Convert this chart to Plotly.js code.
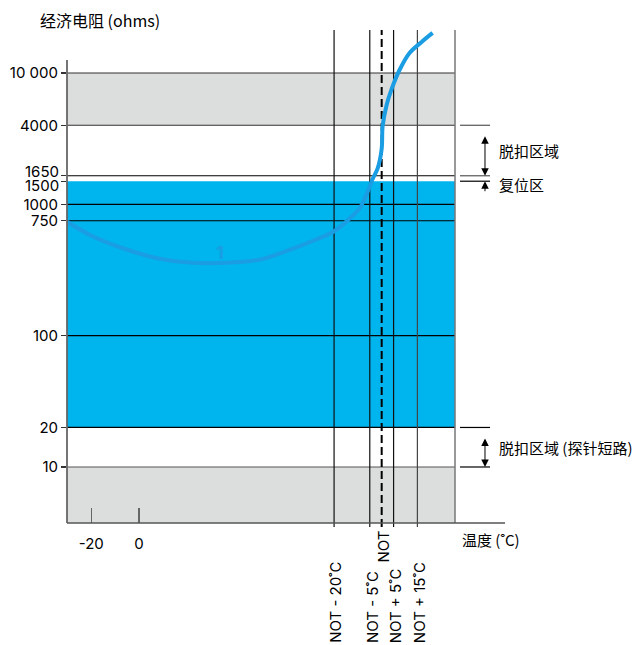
<!DOCTYPE html>
<html>
<head>
<meta charset="utf-8">
<script src="https://cdn.plot.ly/plotly-3.0.1.min.js"></script>
<style>html,body{margin:0;padding:0;background:#fff;}#chart{width:641px;height:645px;}</style>
</head>
<body>
<div id="chart"></div>
<script>
// ---- data ----
const yTickVals = [10, 20, 100, 750, 1000, 1500, 1650, 4000, 10000];
const yTickText = ['10', '20', '100', '750', '1000', '1500', '1650', '4000', '10 000'];
const xTickVals = [-20, 0];
const xTickText = ['-20', '0'];
const notTemp = 102;
const notOffsets = [-20, -5, 0, 5, 15];
const notLabels = ['NOT - 20˚C', 'NOT - 5˚C', 'NOT', 'NOT + 5˚C', 'NOT + 15˚C'];
const tripHigh = [4000, 10000];
const resetZone = [1500, 1650];
const normalZone = [20, 1500];
const tripLow = [10, 20];
const curveT = [-30.2, -19.5, -5.2, 8.7, 22.6, 36.8, 50.7, 60.4, 74.7, 82.2, 88.5, 92.7, 96.1, 98.2, 100.3, 102.0, 102.4, 104.1, 106.2, 109.5, 113.7, 118.8, 123.4];
const curveR = [736, 572, 453, 385, 359, 359, 379, 430, 542, 626, 778, 931, 1250, 1560, 1875, 2650, 3940, 5730, 7570, 10540, 14200, 17250, 20200];
const curveLabel = {t: 33.9, r: 430, text: '1'};
const title = '经济电阻 (ohms)';
const xTitle = '温度 (˚C)';
const zoneLabels = ['脱扣区域', '复位区', '脱扣区域 (探针短路)'];

// ---- style ----
const FONT = "Inter, 'Noto Sans CJK SC', sans-serif";
const CJK = "'Noto Sans CJK SC', Inter, sans-serif";
const BLUE = '#00b4ee';
const GRAY = '#dcdddd';
const CURVE = '#1a9de2';
const lg = Math.log10;
// tick labels that sit too close on a log scale are drawn as annotations nudged apart
const nudged = {1650: 4, 1500: -4};

const shapes = [];
// bands
shapes.push({type:'rect', xref:'paper', yref:'y', x0:0, x1:1, y0:tripHigh[0], y1:tripHigh[1], fillcolor:GRAY, line:{width:0}, layer:'below'});
shapes.push({type:'rect', xref:'paper', yref:'y', x0:0, x1:1, y0:1, y1:tripLow[0], fillcolor:GRAY, line:{width:0}, layer:'below'});
shapes.push({type:'rect', xref:'paper', yref:'y', x0:0, x1:1, y0:normalZone[0], y1:normalZone[1], fillcolor:BLUE, line:{width:0}, layer:'below'});
// horizontal lines
const hColors = {10:'#555', 20:'#000', 100:'#000', 750:'#000', 1000:'#000', 1650:'#000', 4000:'#333', 10000:'#333'};
yTickVals.forEach(v => {
  if (hColors[v]) shapes.push({type:'line', xref:'paper', yref:'y', x0:0, x1:1, y0:v, y1:v, line:{color:hColors[v], width:1.2}, layer:'below'});
});
// vertical NOT lines
notOffsets.forEach((o, i) => {
  const isNot = o === 0;
  shapes.push({type:'line', xref:'x', yref:'paper', x0:notTemp+o, x1:notTemp+o, y0:-0.008, y1:1,
    line:{color: isNot ? '#000' : (o === 15 ? '#444' : '#111'), width: isNot ? 2 : 1.2, dash: isNot ? '8px,4px' : 'solid'}, layer:'below'});
});
// frame: right edge, left axis, bottom axis
shapes.push({type:'line', xref:'paper', yref:'paper', x0:1, x1:1, y0:0, y1:1, line:{color:'#777', width:1.5}, layer:'below'});
shapes.push({type:'line', xref:'paper', yref:'paper', x0:0, x1:0, y0:0, y1:0.939, line:{color:'#666', width:1.8}});
shapes.push({type:'line', xref:'paper', yref:'paper', x0:0, x1:1.129, y0:0, y1:0, line:{color:'#555', width:1.5}});
// right side extension lines
const extColors = {4000:'#555', 1650:'#555', 1500:'#000', 20:'#000', 10:'#000'};
[tripHigh[0], resetZone[1], resetZone[0], tripLow[1], tripLow[0]].forEach(v => {
  shapes.push({type:'line', xref:'paper', yref:'y', x0:1.0129, x1:1.0902, y0:v, y1:v, line:{color:extColors[v], width:1.2}});
});

const annotations = [];
// nudged y tick labels
yTickVals.forEach((v, i) => {
  if (nudged[v] !== undefined) {
    annotations.push({x:0, xref:'paper', y:lg(v), yref:'y', yshift:nudged[v], xshift:-7, text:yTickText[i], showarrow:false,
      xanchor:'right', yanchor:'middle', borderpad:0, font:{family:FONT, size:15, color:'#000'}});
  }
});
// rotated NOT labels
notOffsets.forEach((o, i) => {
  annotations.push({x:notTemp+o, xref:'x', y: o === 0 ? -0.085 : -0.248, yref:'paper', text:notLabels[i],
    showarrow:false, textangle:-90, xanchor:'center', yanchor:'bottom', xshift:2,
    font:{family:FONT, size:15, color:'#000'}});
});
// arrows
const ax = 1.0773;
annotations.push({x:ax, xref:'paper', y:lg(resetZone[1]), yref:'y', ax:0, axref:'pixel', ay:lg(tripHigh[0]), ayref:'y',
  text:' ', showarrow:true, arrowhead:2, startarrowhead:2, arrowside:'end+start', arrowsize:1.5, startarrowsize:1.5, arrowwidth:1, arrowcolor:'#000', standoff:0, startstandoff:0});
annotations.push({x:ax, xref:'paper', y:lg(resetZone[0]), yref:'y', ax:0, ay:21,
  text:' ', showarrow:true, arrowhead:2, arrowsize:1.5, arrowwidth:1, arrowcolor:'#000', standoff:0});
annotations.push({x:ax, xref:'paper', y:lg(tripLow[0]), yref:'y', ax:0, axref:'pixel', ay:lg(tripLow[1]), ayref:'y',
  text:' ', showarrow:true, arrowhead:2, startarrowhead:2, arrowside:'end+start', arrowsize:1.5, startarrowsize:1.5, arrowwidth:1, arrowcolor:'#000', standoff:0, startstandoff:0});
// zone labels
const zx = 1.108;
annotations.push({x:zx, xref:'paper', y:(lg(tripHigh[0])+lg(resetZone[1]))/2, yref:'y', text:zoneLabels[0], showarrow:false, xanchor:'left', yanchor:'middle', font:{family:CJK, size:15, color:'#000'}});
annotations.push({x:zx, xref:'paper', y:(lg(resetZone[0])+lg(resetZone[1]))/2, yref:'y', yshift:-6, text:zoneLabels[1], showarrow:false, xanchor:'left', yanchor:'middle', font:{family:CJK, size:15, color:'#000'}});
annotations.push({x:zx, xref:'paper', y:(lg(tripLow[0])+lg(tripLow[1]))/2, yref:'y', text:zoneLabels[2], showarrow:false, xanchor:'left', yanchor:'middle', font:{family:CJK, size:15, color:'#000'}});
// x title
annotations.push({x:1.013, xref:'paper', y:-0.034, yref:'paper', text:xTitle, showarrow:false, xanchor:'left', yanchor:'middle', font:{family:CJK, size:15, color:'#000'}});
// curve label
annotations.push({x:curveLabel.t, xref:'x', y:lg(curveLabel.r), yref:'y', text:'<b>'+curveLabel.text+'</b>', showarrow:false, font:{family:FONT, size:18, color:CURVE}});

const trace = {x:curveT, y:curveR, type:'scatter', mode:'lines', line:{color:CURVE, width:4, shape:'spline', smoothing:1}, hoverinfo:'skip', cliponaxis:false};

const layout = {
  width:641, height:645,
  margin:{l:67, r:186, t:30, b:122, pad:0},
  paper_bgcolor:'#fff', plot_bgcolor:'rgba(0,0,0,0)',
  showlegend:false,
  font:{family:FONT, size:15, color:'#000'},
  title:{text:title, xref:'container', yref:'container', x:40/641, xanchor:'left', y:1-21/645, yanchor:'middle', font:{family:CJK, size:16, color:'#000'}},
  xaxis:{range:[-30.2, 132.8], tickvals:xTickVals, ticktext:xTickText, ticks:'inside', ticklen:15, tickwidth:1.5, tickcolor:'#666',
    showgrid:false, zeroline:false, showline:false, tickfont:{family:FONT, size:15, color:'#000'}, ticklabelstandoff:10, fixedrange:true},
  yaxis:{type:'log', range:[0.5735, 4.3275], tickvals:yTickVals,
    ticktext:yTickText.map((t, i) => nudged[yTickVals[i]] !== undefined ? '' : t),
    ticks:'outside', ticklen:5, tickwidth:1.2, tickcolor:'#333',
    showgrid:false, zeroline:false, showline:false, tickfont:{family:FONT, size:15, color:'#000'}, fixedrange:true},
  shapes:shapes,
  annotations:annotations
};
Plotly.newPlot('chart', [trace], layout, {staticPlot:true, displayModeBar:false});
</script>
</body>
</html>
